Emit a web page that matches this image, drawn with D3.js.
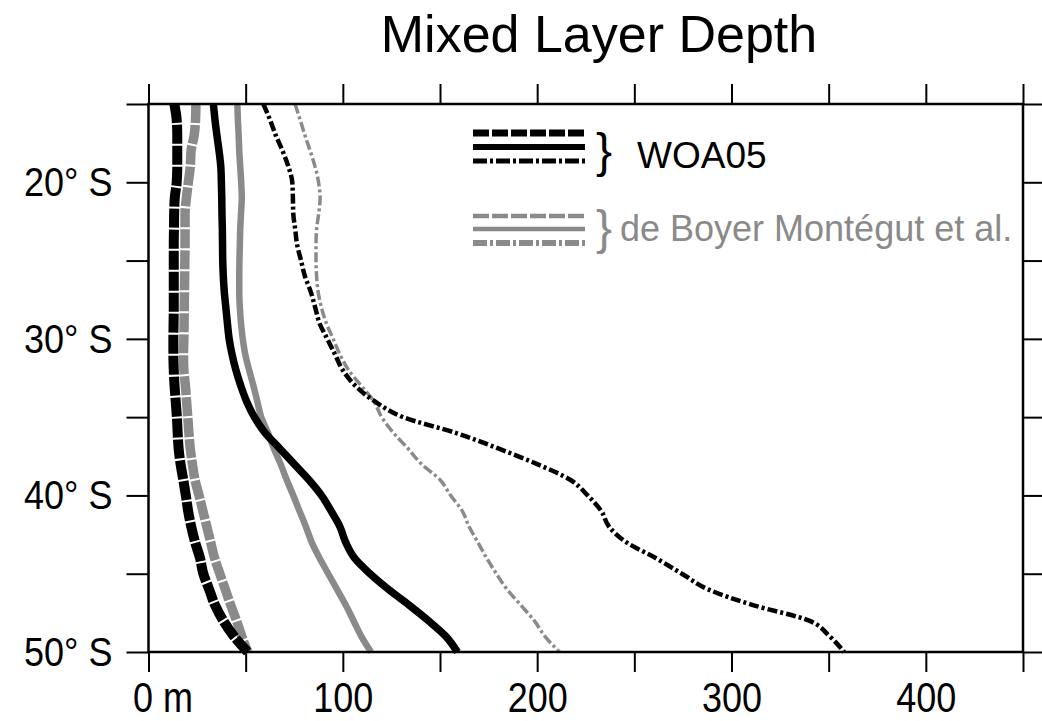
<!DOCTYPE html>
<html>
<head>
<meta charset="utf-8">
<script src="https://cdn.jsdelivr.net/npm/d3@7"></script>
<style>
  html, body { margin: 0; padding: 0; background: #fff; }
  svg { display: block; font-family: "Liberation Sans", Arial, sans-serif; }
</style>
</head>
<body>
<svg id="mld" width="1042" height="721"></svg>
<script>
// latitude (degrees south), one reading per degree
const lats = d3.range(15, 51);

// mixed layer depth in metres
const woaDashed = [13.3, 14.5, 14.8, 14.8, 14.8, 14.5, 13.5, 13.2, 13.1, 13.0, 13.0, 13.0, 13.0, 13.0, 12.9, 12.8, 12.8, 13.0,
  13.4, 14.0, 14.6, 15.0, 15.5, 16.5, 17.9, 19.2, 20.4, 22.0, 24.0, 26.5, 28.2, 31.2, 34.2, 38.5, 44.0, 51.0];
const woaSolid = [33.4, 34.2, 35.2, 36.3, 37.2, 37.5, 37.7, 37.8, 38.0, 38.1, 38.2, 38.5, 39.0, 39.8, 40.6, 41.5, 43.0, 45.0,
  47.5, 50.5, 54.5, 60.0, 67.5, 75.0, 82.5, 89.0, 94.0, 98.5, 101.5, 106.0, 114.0, 123.5, 134.0, 144.0, 153.0, 159.0];
const woaDashDot = [59.1, 62.5, 65.5, 69.0, 72.0, 74.0, 74.3, 74.5, 75.5, 76.5, 78.5, 80.5, 83.5, 85.8, 88.0, 92.0, 96.0, 100.0,
  106.5, 116.5, 131.0, 158.0, 180.0, 200.0, 217.0, 226.0, 233.0, 237.0, 246.0, 261.0, 274.5, 288.0, 311.0, 340.0, 350.5, 358.0];

const dbmDashed = [24.4, 24.2, 23.5, 21.9, 21.5, 20.5, 19.5, 18.8, 18.8, 18.8, 18.7, 18.6, 18.5, 18.4, 18.3, 18.2, 18.0, 18.2,
  19.0, 19.6, 20.2, 20.8, 21.5, 22.6, 23.9, 26.0, 28.0, 30.0, 32.0, 34.0, 36.7, 39.5, 42.3, 45.3, 48.0, 51.0];
const dbmSolid = [45.7, 46.0, 46.4, 46.7, 47.2, 47.7, 48.0, 47.6, 47.2, 47.0, 46.8, 46.7, 46.7, 47.0, 47.6, 48.5, 49.8, 51.8,
  54.0, 56.0, 58.0, 61.5, 64.5, 68.0, 71.1, 74.5, 77.7, 81.0, 84.0, 88.0, 92.5, 97.0, 101.5, 105.5, 109.5, 114.5];
const dbmDashDot = [75.4, 78.0, 80.5, 83.2, 85.7, 87.5, 88.3, 87.6, 86.5, 86.2, 86.2, 86.5, 87.3, 89.0, 91.5, 95.0, 98.5, 103.0,
  109.5, 116.0, 120.0, 126.0, 133.5, 140.5, 150.0, 155.5, 161.5, 165.0, 169.5, 174.0, 179.0, 184.5, 191.5, 198.5, 204.0, 211.5];

const depthTicks = d3.range(0, 451, 50);
const latTicks = d3.range(15, 51, 5);
const legendNames = ["WOA05", "de Boyer Montégut et al."];

const svg = d3.select("#mld");
const black = "#000";
const grey = "#8a8a8a";

const mapX = d3.scaleLinear().domain([0, 450]).range([148.5, 1023]);
const mapY = d3.scaleLinear().domain([15, 50]).range([104, 652]);

// line styles
const styles = {
  dashed:  { width: 10,  dash: "19,2" },
  solid:   { width: 7.5, dash: null },
  dashdot: { width: 4.5, dash: "10,3,3,3" }
};

const series = [
  { values: dbmDashed,  color: grey,  style: "dashed", width: 9.5 },
  { values: dbmSolid,   color: grey,  style: "solid", width: 6.5 },
  { values: dbmDashDot, color: grey,  style: "dashdot", width: 3.5 },
  { values: woaDashed,  color: black, style: "dashed" },
  { values: woaSolid,   color: black, style: "solid" },
  { values: woaDashDot, color: black, style: "dashdot" }
];

const line = d3.line()
  .x(d => mapX(d[1]))
  .y(d => mapY(d[0]))
  .curve(d3.curveMonotoneY);

svg.append("g")
  .selectAll("path")
  .data(series)
  .enter()
  .append("path")
  .attr("fill", "none")
  .attr("stroke", d => d.color)
  .attr("stroke-width", d => d.width || styles[d.style].width)
  .attr("stroke-dasharray", d => styles[d.style].dash)
  .attr("d", d => line(lats.map((lat, i) => [lat, d.values[i]])));

// ---- axes
const fontSize = 36;

const xBottom = d3.axisBottom(mapX)
  .tickValues(depthTicks)
  .tickSize(20).tickSizeOuter(0)
  .tickFormat(d => d % 100 === 0 ? (d === 0 ? "0 m" : d) : "");
const gB = svg.append("g").attr("transform", `translate(0,${mapY(50)})`).call(xBottom);
// the original lettering is narrow and tall
gB.selectAll("text").attr("y", 24.5).attr("transform", "scale(1,1.2)");
gB.selectAll("text").filter(d => d === 0).attr("text-anchor", "start").attr("dx", -16);

const xTop = d3.axisTop(mapX).tickValues(depthTicks).tickSize(20).tickSizeOuter(0).tickFormat("");
svg.append("g").attr("transform", `translate(0,${mapY(15)})`).call(xTop);

const yLeft = d3.axisLeft(mapY)
  .tickValues(latTicks)
  .tickSize(22).tickSizeOuter(0).tickPadding(14)
  .tickFormat(d => d % 10 === 0 ? `${d}° S` : "");
const gL = svg.append("g").attr("transform", `translate(${mapX(0)},0)`).call(yLeft);
gL.selectAll("text").attr("transform", "scale(1,1.15)");

const yRight = d3.axisRight(mapY).tickValues(latTicks).tickSize(20).tickSizeOuter(0).tickFormat("");
svg.append("g").attr("transform", `translate(${mapX(450)},0)`).call(yRight);

svg.selectAll(".domain").remove();
svg.selectAll(".tick line").attr("stroke", black).attr("stroke-width", 2);
svg.selectAll(".tick text")
  .attr("fill", black)
  .style("font-size", fontSize + "px")
  .style("font-family", "'Liberation Sans', Arial, sans-serif");

// frame
svg.append("rect")
  .attr("x", mapX(0)).attr("y", mapY(15))
  .attr("width", mapX(450) - mapX(0)).attr("height", mapY(50) - mapY(15))
  .attr("fill", "none").attr("stroke", black).attr("stroke-width", 2.5);

// title
svg.append("text")
  .attr("x", 599).attr("y", 52)
  .attr("text-anchor", "middle")
  .style("font-size", "52px")
  .attr("fill", black)
  .text("Mixed Layer Depth");

// ---- legend
const legend = svg.append("g");
const legendRows = [
  { y: 133, color: black, style: "dashed", width: 7 },
  { y: 147, color: black, style: "solid", width: 6 },
  { y: 161, color: black, style: "dashdot", width: 5 },
  { y: 216, color: grey, style: "dashed", width: 4.5 },
  { y: 229, color: grey, style: "solid", width: 4.5 },
  { y: 243, color: grey, style: "dashdot", width: 6 }
];
legend.selectAll("line")
  .data(legendRows)
  .enter()
  .append("line")
  .attr("x1", 473).attr("x2", 585)
  .attr("y1", d => d.y).attr("y2", d => d.y)
  .attr("stroke", d => d.color)
  .attr("stroke-width", d => d.width)
  .attr("stroke-dasharray", d => d.style === "dashed" ? "16,3" : d.style === "dashdot" ? "14,3,3,3" : null);

legend.selectAll("text.brace")
  .data([{ y: 167, color: black }, { y: 244, color: grey }])
  .enter()
  .append("text")
  .attr("class", "brace")
  .attr("x", 596).attr("y", d => d.y)
  .style("font-size", "48px")
  .attr("fill", d => d.color)
  .text("}");

legend.append("text")
  .attr("x", 637).attr("y", 168)
  .style("font-size", "37px")
  .attr("fill", black)
  .text(legendNames[0]);

legend.append("text")
  .attr("x", 620).attr("y", 241)
  .style("font-size", "36px")
  .attr("fill", grey)
  .text(legendNames[1]);
</script>
</body>
</html>
